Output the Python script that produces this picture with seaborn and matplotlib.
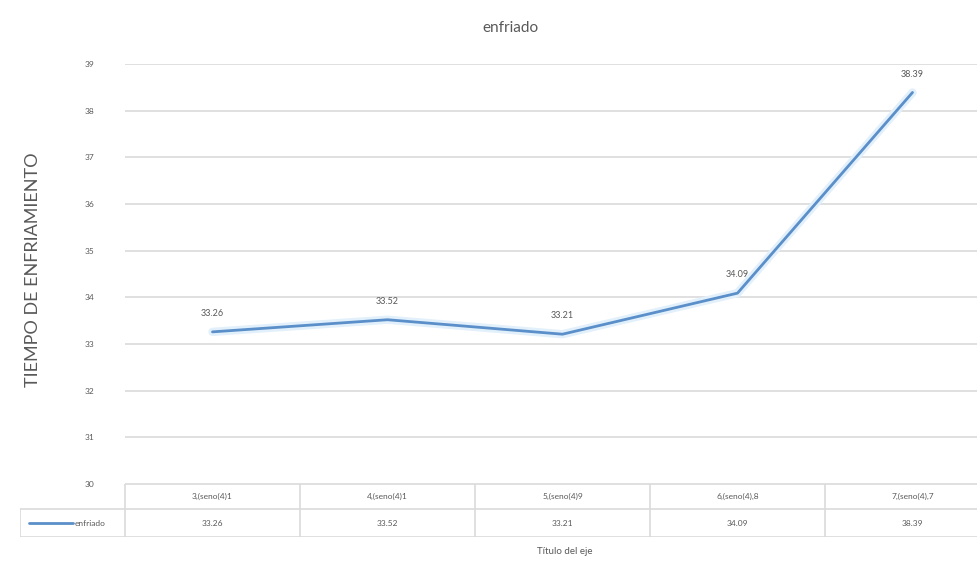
import matplotlib
matplotlib.use("Agg")
import matplotlib.pyplot as plt
import seaborn as sns
import pandas as pd

categories = ["3,(seno(4)1", "4,(seno(4)1", "5,(seno(4)9", "6,(seno(4),8", "7,(seno(4),7"]
enfriado = [33.26, 33.52, 33.21, 34.09, 38.39]
y_ticks = [30, 31, 32, 33, 34, 35, 36, 37, 38, 39]

series_name = "enfriado"
title = "enfriado"
y_label = "TIEMPO DE ENFRIAMIENTO"
x_label = "Título del eje"

sns.set_style("white")
plt.rcParams["font.family"] = ["Lato", "DejaVu Sans"]

TEXT = "#595959"
GRID = "#DADADA"
LINE = "#5B8FC9"

W, H = 977, 566
fig = plt.figure(figsize=(W / 100, H / 100), dpi=100)

# plot area in pixels
left_px, right_px, top_px, bot_px = 125, 977, 64, 484
ax = fig.add_axes([left_px / W, 1 - bot_px / H, (right_px - left_px) / W, (bot_px - top_px) / H])

unit = 175.0  # pixels per category
x0 = -0.5
x1 = x0 + (right_px - left_px) / unit
pos = list(range(len(categories)))
df = pd.DataFrame({"pos": pos, "val": enfriado})

# soft halo under the line
ax.plot(df["pos"], df["val"], color="#E2F0FB", lw=6, solid_capstyle="round", zorder=2)
sns.lineplot(data=df, x="pos", y="val", ax=ax, color=LINE, lw=2.0, zorder=3)

ax.set_xlim(x0, x1)
ax.set_ylim(30, 39)
ax.set_yticks(y_ticks)
ax.set_yticklabels([str(t) for t in y_ticks], color=TEXT, fontsize=6)
ax.tick_params(axis="y", length=0, pad=22)
ax.set_xticks([])
ax.set_xlabel("")
ax.set_ylabel("")
ax.grid(axis="y", color=GRID, lw=1.2)
for s in ax.spines.values():
    s.set_visible(False)

for p, v in zip(pos, enfriado):
    ax.annotate(f"{v:.2f}", (p, v), xytext=(0, 10), textcoords="offset points",
                ha="center", va="bottom", fontsize=6.5, color=TEXT)

# data table under the plot
tl_px, tb_px = 20, 537
tax = fig.add_axes([tl_px / W, 1 - tb_px / H, (right_px - tl_px) / W, (tb_px - bot_px) / H])
tx0 = x0 - (left_px - tl_px) / unit
tax.set_xlim(tx0, x1)
tax.set_ylim(0, 2)
tax.axis("off")
row_mid = 1.05
# horizontal rules
tax.plot([x0, x1], [2, 2], color=GRID, lw=1.2)
tax.plot([tx0, x1], [row_mid, row_mid], color=GRID, lw=1.2)
tax.plot([tx0, x1], [0, 0], color=GRID, lw=1.2)
# vertical rules
tax.plot([x0, x0], [0, 2], color=GRID, lw=1.2)
tax.plot([tx0, tx0], [0, row_mid], color=GRID, lw=1.2)
for i in range(len(categories)):
    tax.plot([i + 0.5, i + 0.5], [0, 2], color=GRID, lw=1.2)
for i, (c, v) in enumerate(zip(categories, enfriado)):
    tax.text(i, (2 + row_mid) / 2, c, ha="center", va="center", fontsize=6, color=TEXT)
    tax.text(i, row_mid / 2, f"{v:.2f}", ha="center", va="center", fontsize=6, color=TEXT)
# legend key in the table's first column
tax.plot([tx0 + 0.05, tx0 + 0.3], [row_mid / 2, row_mid / 2], color=LINE, lw=2)
tax.text(tx0 + 0.31, row_mid / 2, series_name, ha="left", va="center", fontsize=6, color=TEXT)

fig.text(510 / W, 1 - 28 / H, title, ha="center", va="center", fontsize=11, color=TEXT)
fig.text(565 / W, 1 - 551 / H, x_label, ha="center", va="center", fontsize=7, color=TEXT)
fig.text(33 / W, 1 - 270 / H, y_label, ha="center", va="center", rotation=90, fontsize=13, color=TEXT)

fig.savefig("out.png", dpi=100, facecolor="white")
